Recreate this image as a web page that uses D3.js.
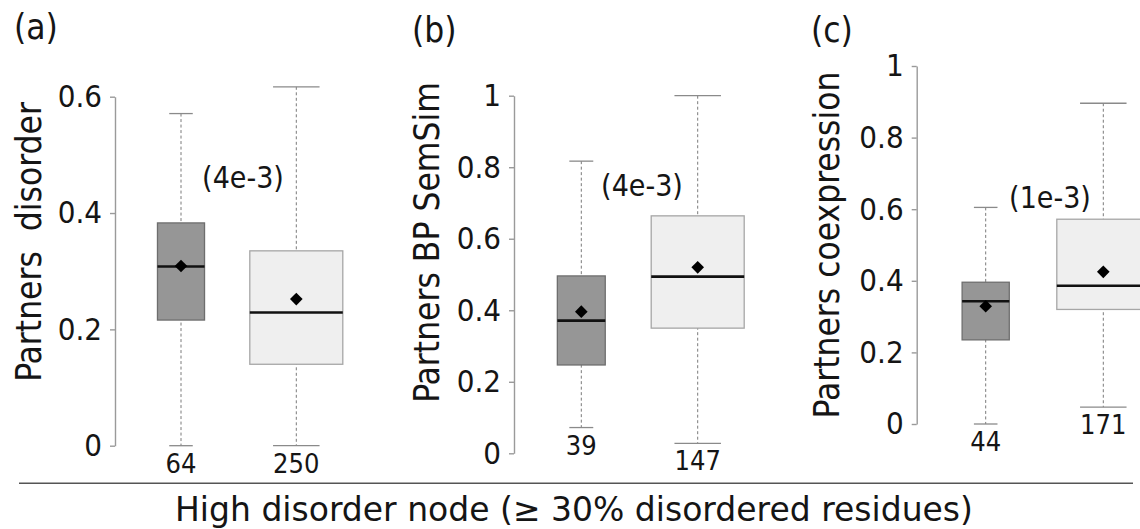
<!DOCTYPE html>
<html>
<head>
<meta charset="utf-8">
<script src="https://cdn.jsdelivr.net/npm/d3@7"></script>
<style>
  html, body { margin: 0; padding: 0; background: #fff; }
  svg { display: block; font-family: 'DejaVu Sans Condensed', 'DejaVu Sans', Verdana, sans-serif; font-stretch: condensed; }
</style>
</head>
<body>
<svg id="chart"></svg>
<script>
const width = 1140;
const height = 529;

// chart values
const panelLetters = ['(a)', '(b)', '(c)'];
const yTitles = ['Partners  disorder', 'Partners BP SemSim', 'Partners coexpression'];
const pValues = ['(4e-3)', '(4e-3)', '(1e-3)'];
const yMax = [0.6, 1, 1];
const yTicks = [
    [0, 0.2, 0.4, 0.6],
    [0, 0.2, 0.4, 0.6, 0.8, 1],
    [0, 0.2, 0.4, 0.6, 0.8, 1]
];
const groups = ['high', 'low'];
const counts = [[64, 250], [39, 147], [44, 171]];
const whiskerLow = [[0, 0], [0.072, 0.028], [0, 0.047]];
const q1 = [[0.216, 0.140], [0.247, 0.350], [0.235, 0.320]];
const medians = [[0.308, 0.229], [0.371, 0.494], [0.343, 0.386]];
const means = [[0.309, 0.252], [0.396, 0.520], [0.329, 0.425]];
const q3 = [[0.383, 0.335], [0.496, 0.664], [0.396, 0.572]];
const whiskerHigh = [[0.571, 0.617], [0.817, 1.0], [0.605, 0.896]];
const xTitle = 'High disorder node (\u2265 30% disordered residues)';

// layout of each panel (pixels)
const layout = [
    { axisX: 115, yBottom: 445.7, yTop: 96.7, xFrom: 181, xTo: 296.3,
      letter: [14, 39], titleX: 41, titleY: 242, pLabel: [243, 188] },
    { axisX: 514, yBottom: 453.3, yTop: 95.7, xFrom: 581.3, xTo: 697.7,
      letter: [412, 42], titleX: 439, titleY: 242.5, pLabel: [642, 196] },
    { axisX: 916.7, yBottom: 424, yTop: 66, xFrom: 985.7, xTo: 1103.3,
      letter: [811, 42], titleX: 839, titleY: 245, pLabel: [1050, 208] }
];
const fills = { high: '#969696', low: '#efefef' };
const strokes = { high: '#6e6e6e', low: '#a6a6a6' };
const textColor = '#151515';
const fontStack = "'DejaVu Sans Condensed', 'DejaVu Sans', Verdana, sans-serif";

const svg = d3.select('#chart')
    .attr('width', width)
    .attr('height', height);

panelLetters.forEach((letter, i) => {
    const L = layout[i];
    const g = svg.append('g');

    const yScale = d3.scaleLinear()
        .domain([0, yMax[i]])
        .range([L.yBottom, L.yTop]);

    const xScale = d3.scalePoint()
        .domain(groups)
        .range([L.xFrom, L.xTo]);

    const widthScale = d3.scaleSqrt()
        .domain([0, d3.max(counts[i])])
        .range([0, 93]);

    const yAxis = d3.axisLeft(yScale)
        .tickValues(yTicks[i])
        .tickSize(5)
        .tickSizeOuter(0)
        .tickPadding(8)
        .tickFormat(d3.format('~g'));

    const axisG = g.append('g')
        .attr('transform', `translate(${L.axisX}, 0)`)
        .call(yAxis);
    axisG.select('.domain').attr('stroke', '#9a9a9a').attr('stroke-width', 1.4);
    axisG.selectAll('.tick line').attr('stroke', '#9a9a9a').attr('stroke-width', 1.4);
    axisG.selectAll('.tick text')
        .attr('fill', textColor)
        .style('font-size', '31px')
        .style('font-family', fontStack)
        .style('font-stretch', 'condensed');

    const boxes = groups.map((grp, j) => ({
        grp,
        n: counts[i][j],
        lo: whiskerLow[i][j],
        q1: q1[i][j],
        med: medians[i][j],
        mean: means[i][j],
        q3: q3[i][j],
        hi: whiskerHigh[i][j]
    }));

    const box = g.selectAll('g.box')
        .data(boxes)
        .enter()
        .append('g')
            .attr('class', 'box');

    // dashed whiskers
    box.append('line')
        .attr('x1', (d) => xScale(d.grp))
        .attr('x2', (d) => xScale(d.grp))
        .attr('y1', (d) => yScale(d.hi))
        .attr('y2', (d) => yScale(d.lo))
        .attr('stroke', '#7a7a7a')
        .attr('stroke-width', 1)
        .attr('stroke-dasharray', '3,2.5');

    // whisker caps
    ['hi', 'lo'].forEach((k) => {
        box.append('line')
            .attr('x1', (d) => xScale(d.grp) - widthScale(d.n) / 4)
            .attr('x2', (d) => xScale(d.grp) + widthScale(d.n) / 4)
            .attr('y1', (d) => yScale(d[k]))
            .attr('y2', (d) => yScale(d[k]))
            .attr('stroke', '#8a8a8a')
            .attr('stroke-width', 1.3);
    });

    box.append('rect')
        .attr('x', (d) => xScale(d.grp) - widthScale(d.n) / 2)
        .attr('width', (d) => widthScale(d.n))
        .attr('y', (d) => yScale(d.q3))
        .attr('height', (d) => yScale(d.q1) - yScale(d.q3))
        .attr('fill', (d) => fills[d.grp])
        .attr('stroke', (d) => strokes[d.grp])
        .attr('stroke-width', 1.3);

    box.append('line')
        .attr('x1', (d) => xScale(d.grp) - widthScale(d.n) / 2)
        .attr('x2', (d) => xScale(d.grp) + widthScale(d.n) / 2)
        .attr('y1', (d) => yScale(d.med))
        .attr('y2', (d) => yScale(d.med))
        .attr('stroke', '#111')
        .attr('stroke-width', 2.6);

    box.append('path')
        .attr('d', d3.symbol(d3.symbolSquare, 80))
        .attr('transform', (d) => `translate(${xScale(d.grp)}, ${yScale(d.mean)}) rotate(45)`)
        .attr('fill', '#000');

    box.append('text')
        .attr('x', (d) => xScale(d.grp))
        .attr('y', (d) => yScale(d.lo) + 27)
        .style('text-anchor', 'middle')
        .style('font-size', '27px')
        .attr('fill', textColor)
        .text((d) => d.n);

    g.append('text')
        .attr('x', L.pLabel[0])
        .attr('y', L.pLabel[1])
        .style('text-anchor', 'middle')
        .style('font-size', '30px')
        .attr('fill', textColor)
        .text(pValues[i]);

    g.append('text')
        .attr('transform', `translate(${L.titleX}, ${L.titleY}) rotate(-90)`)
        .style('text-anchor', 'middle')
        .style('font-size', '35px')
        .style('white-space', 'pre')
        .attr('fill', textColor)
        .text(yTitles[i]);

    g.append('text')
        .attr('x', L.letter[0])
        .attr('y', L.letter[1])
        .style('font-size', '35px')
        .attr('fill', textColor)
        .text(letter);
});

svg.append('line')
    .attr('x1', 19)
    .attr('x2', 1133)
    .attr('y1', 483.3)
    .attr('y2', 483.3)
    .attr('stroke', '#555')
    .attr('stroke-width', 1.6);

svg.append('text')
    .attr('x', 574)
    .attr('y', 521)
    .style('text-anchor', 'middle')
    .style('font-size', '33px')
    .style('font-family', "'DejaVu Sans', Verdana, sans-serif")
    .style('font-stretch', 'normal')
    .attr('fill', textColor)
    .text(xTitle);
</script>
</body>
</html>
